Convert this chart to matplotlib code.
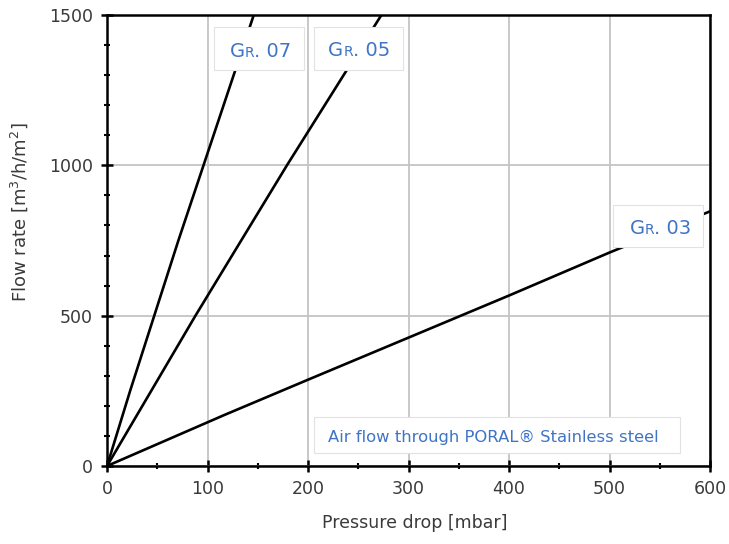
import matplotlib.pyplot as plt
from matplotlib.patches import Rectangle
from matplotlib.ticker import MultipleLocator

# pressure drop [mbar] vs flow rate [m3/h/m2]
p_gr07 = [0, 23, 47, 71, 96, 121, 146]
q_gr07 = [0, 250, 500, 750, 1000, 1250, 1500]
p_gr05 = [0, 88, 179, 273]
q_gr05 = [0, 500, 1000, 1500]
p_gr03 = [0, 117, 200, 400, 500, 600]
q_gr03 = [0, 170, 287, 567, 710, 847]

grades = ['07', '05', '03']

blue = '#3f74c6'
grey_txt = '#3a3a3a'

fig = plt.figure(figsize=(7.29, 5.44), dpi=100)
ax = fig.add_axes([0.1468, 0.1434, 0.8272, 0.829])

ax.plot(p_gr07, q_gr07, color='black', lw=1.9, zorder=2)
ax.plot(p_gr05, q_gr05, color='black', lw=1.9, zorder=2)
ax.plot(p_gr03, q_gr03, color='black', lw=1.9, zorder=2)

ax.set_xlim(0, 600)
ax.set_ylim(0, 1500)
ax.xaxis.set_major_locator(MultipleLocator(100))
ax.xaxis.set_minor_locator(MultipleLocator(50))
ax.yaxis.set_major_locator(MultipleLocator(500))
ax.yaxis.set_minor_locator(MultipleLocator(100))
ax.grid(True, which='major', color='#c4c4c4', lw=1.3, zorder=0)
ax.set_axisbelow(True)

ax.tick_params(which='major', direction='inout', length=8, width=1.8,
               labelsize=12.5, labelcolor=grey_txt, pad=6)
ax.tick_params(which='minor', direction='inout', length=5, width=1.5)
for s in ax.spines.values():
    s.set_linewidth(1.8)

ax.set_xlabel('Pressure drop [mbar]', fontsize=12.5, color=grey_txt)
ax.set_ylabel('Flow rate [m$^3$/h/m$^2$]', fontsize=13, color=grey_txt)
ax.xaxis.set_label_coords(0.51, -0.107)
ax.yaxis.set_label_coords(-0.127, 0.563)

#white label boxes sitting over the lines
boxes = [(106, 1317, 90, 143), (206, 1317, 88, 143), (503, 728, 90, 140)]
for (bx, by, bw, bh) in boxes:
    ax.add_patch(Rectangle((bx, by), bw, bh, fc='white', ec='#e2e2e2', lw=0.8, zorder=3))
ax.add_patch(Rectangle((206, 43), 364, 120, fc='white', ec='#e2e2e2', lw=0.8, zorder=3))

def grade_label(x, y, num):
    #small caps "Gr." built out of pieces sharing one baseline
    t1 = ax.text(x, y, 'G', fontsize=14, color=blue, va='baseline', ha='left', zorder=4)
    t2 = ax.annotate('R', xy=(1, y), xycoords=(t1, 'data'), fontsize=10, color=blue,
                     va='baseline', ha='left', zorder=4)
    ax.annotate('. ' + num, xy=(1, y), xycoords=(t2, 'data'), fontsize=14, color=blue,
                va='baseline', ha='left', zorder=4)

grade_label(122, 1361, grades[0])
grade_label(220, 1364, grades[1])
grade_label(520, 773, grades[2])

ax.text(220, 80, 'Air flow through PORAL® Stainless steel', fontsize=11.8, color=blue,
        va='baseline', ha='left', zorder=4)

plt.savefig('out.png', dpi=100)
